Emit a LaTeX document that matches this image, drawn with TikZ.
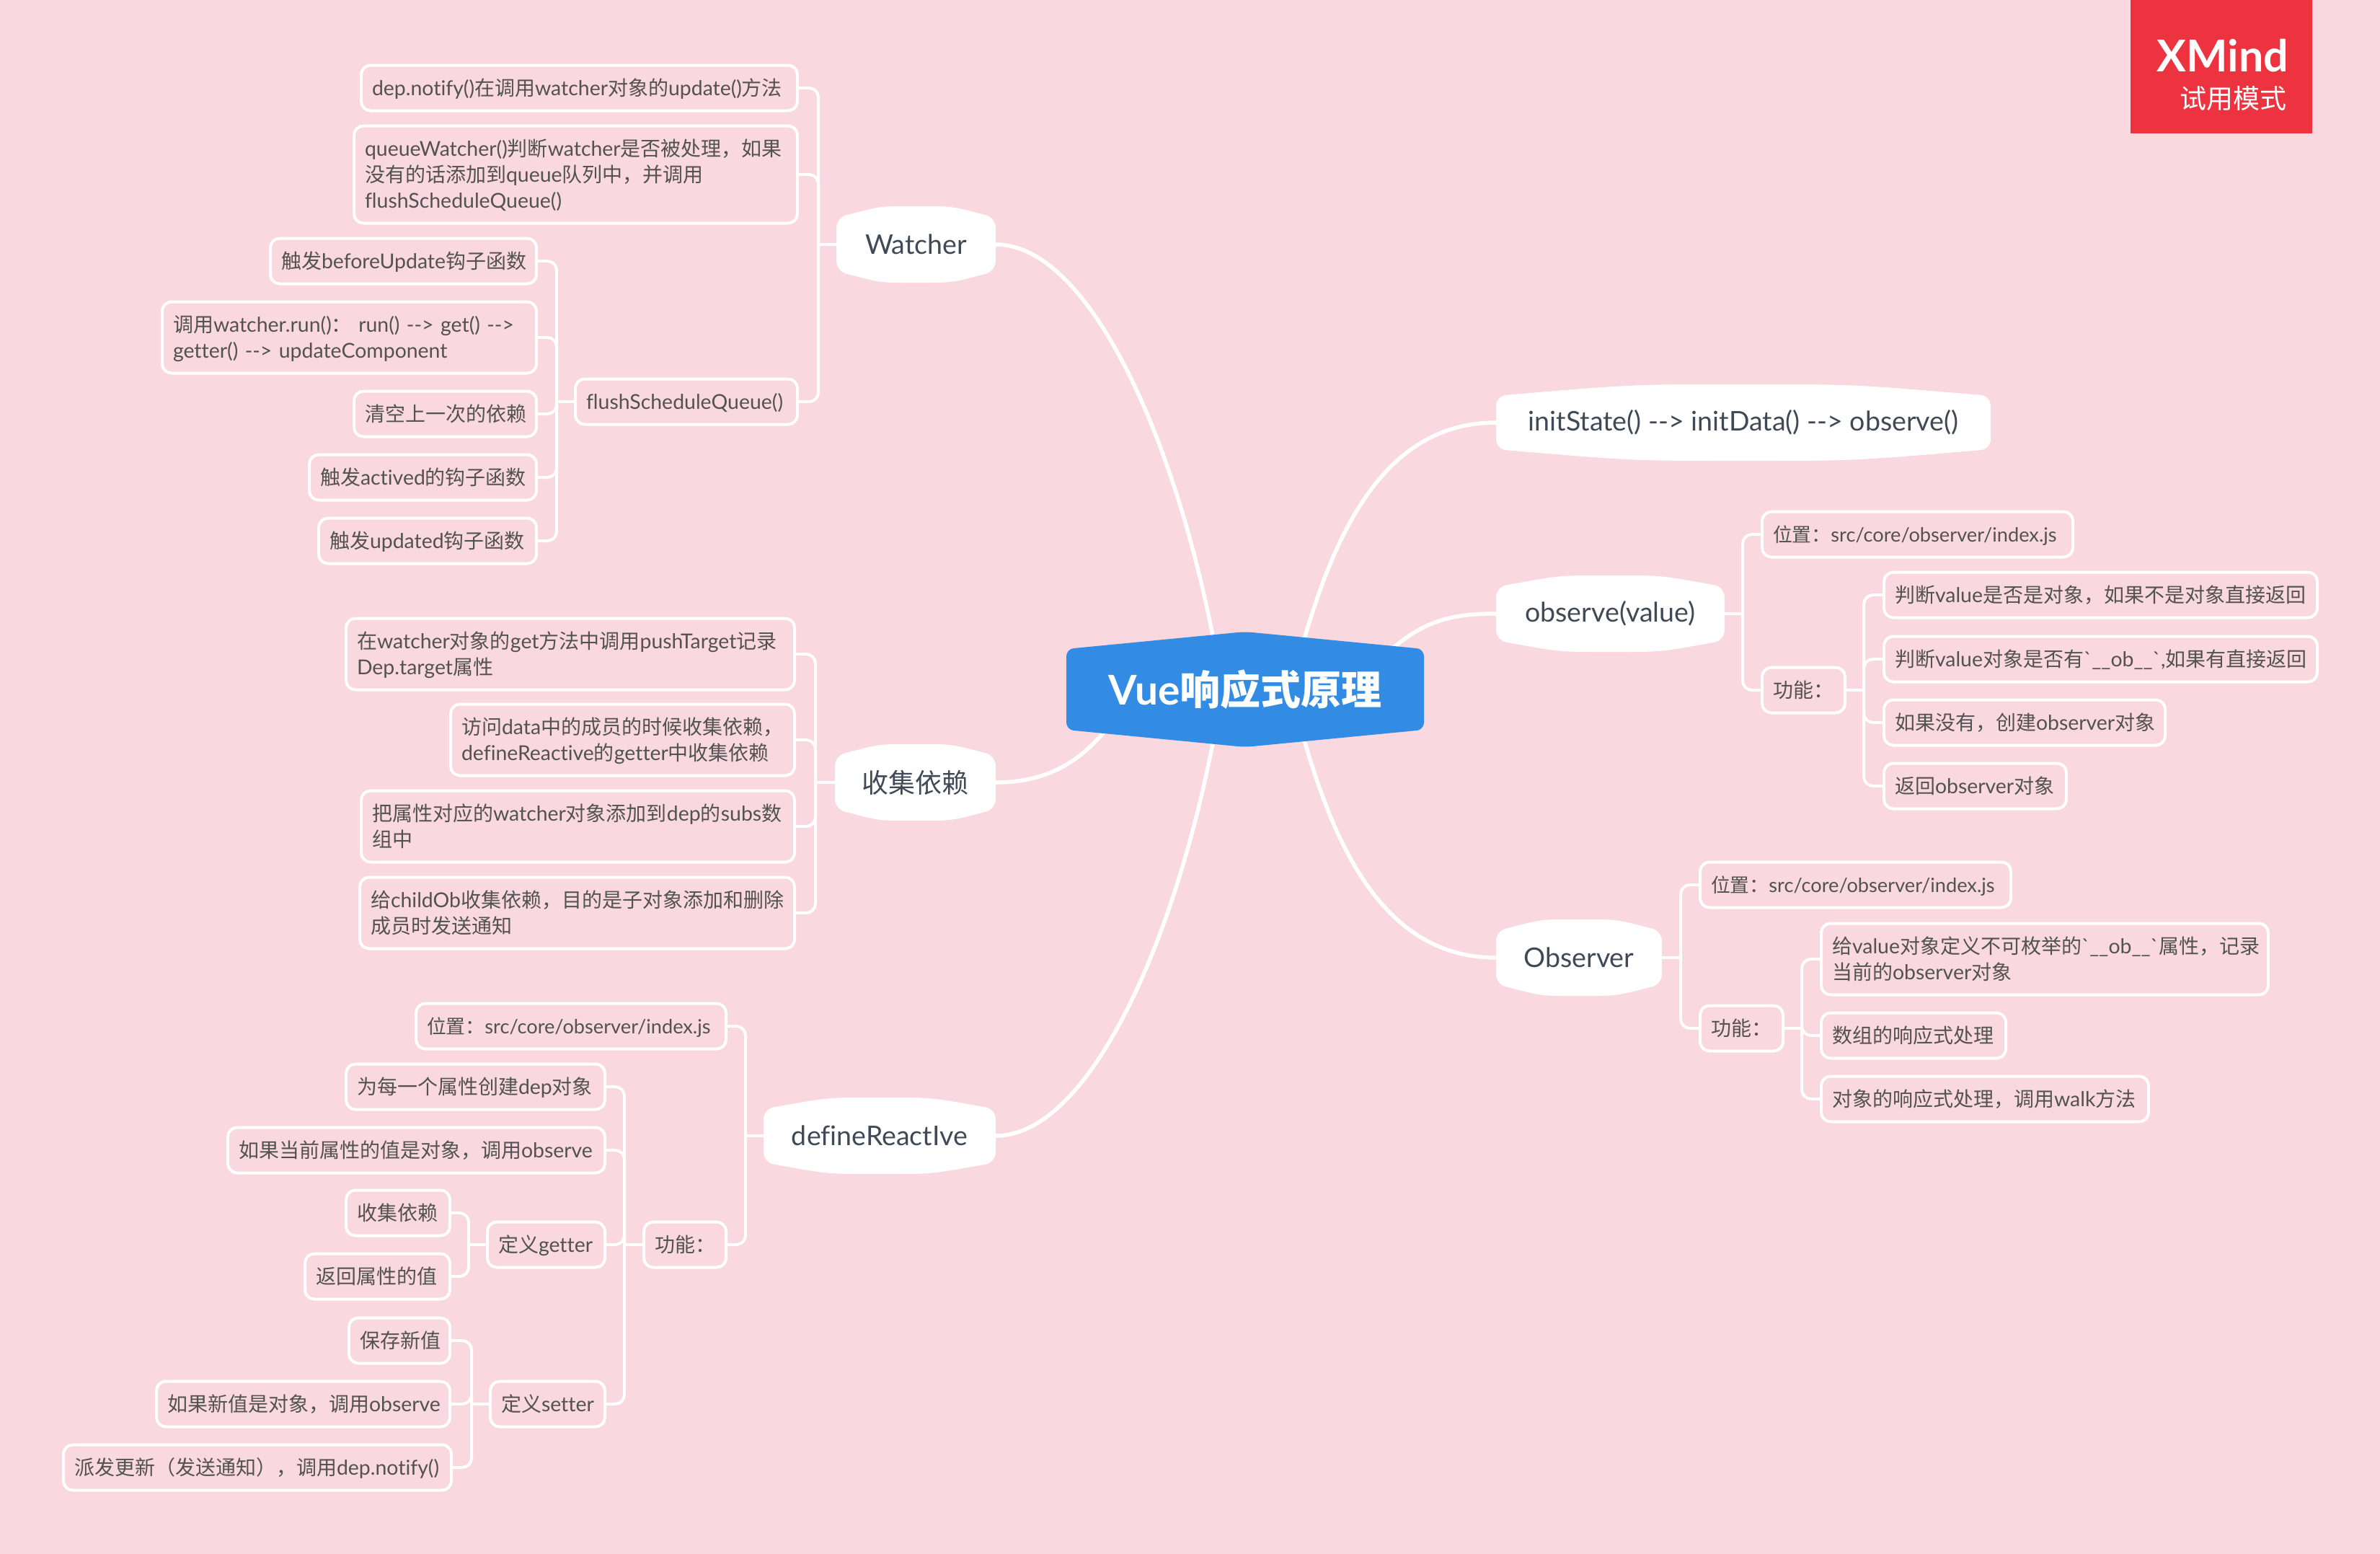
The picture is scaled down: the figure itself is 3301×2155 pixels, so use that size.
\documentclass[tikz,border=0pt]{standalone}
\usepackage{fontspec}
\usetikzlibrary{calc,backgrounds}
\newfontfamily\latfam{Lato}[Scale=1.015,Ligatures=NoCommon]
\newfontfamily\zhfam{Noto Sans CJK SC}
% switch to the CJK face on ideographs and full-width marks
\XeTeXinterchartokenstate=1
\chardef\zhclass=7
\newcount\zhcode
\zhcode="3000
\loop\XeTeXcharclass\zhcode=\zhclass\advance\zhcode 1 \ifnum\zhcode<"A000 \repeat
\zhcode="FF00
\loop\XeTeXcharclass\zhcode=\zhclass\advance\zhcode 1 \ifnum\zhcode<"FFF0 \repeat
\XeTeXinterchartoks 0 \zhclass={\zhfam}
\XeTeXinterchartoks 4095 \zhclass={\zhfam}
\XeTeXinterchartoks \zhclass 0={\latfam}
\XeTeXinterchartoks 4095 0={\latfam}
\definecolor{pagepink}{HTML}{F9D8DF}
\definecolor{leafink}{HTML}{525252}
\definecolor{topicink}{HTML}{3F4A56}
\definecolor{rootblue}{HTML}{338CE3}
\definecolor{badgered}{HTML}{EE3340}
\def\pb{path picture bounding box}
\def\leafstrut{\rule[-7.5pt]{0pt}{36pt}}
\tikzset{
  leaf/.style={draw=white, line width=4pt, rounded corners=13pt, anchor=west,
    outer sep=0pt, inner xsep=15pt, inner ysep=13.5pt, text width=#1pt, align=left,
    text=leafink, font=\fontsize{28}{36}\selectfont\latfam,
    execute at begin node=\leafstrut, execute at end node=\leafstrut},
  tight/.style={font=\fontsize{26.8}{36}\selectfont\latfam},
  topic/.style={anchor=west, outer sep=0pt, inner sep=0pt, minimum width=#1pt,
    minimum height=106pt, text=topicink, font=\fontsize{37}{40}\selectfont\latfam,
    path picture={\fill[white, rounded corners=14pt] (\pb.west)
      -- ([yshift=-16pt]\pb.north west) .. controls ($(\pb.north west)!.55!(\pb.north)$) .. (\pb.north)
      .. controls ($(\pb.north east)!.55!(\pb.north)$) .. ([yshift=-16pt]\pb.north east)
      -- ([yshift=16pt]\pb.south east) .. controls ($(\pb.south east)!.55!(\pb.south)$) .. (\pb.south)
      .. controls ($(\pb.south west)!.55!(\pb.south)$) .. ([yshift=16pt]\pb.south west) -- cycle;}},
  rootbox/.style={outer sep=0pt, inner sep=0pt, minimum width=496pt, minimum height=160pt,
    text=white, font=\fontsize{56}{60}\selectfont\latfam\bfseries,
    path picture={\fill[rootblue, rounded corners=10pt] (\pb.west)
      -- ([yshift=-24pt]\pb.north west) -- (\pb.north) -- ([yshift=-24pt]\pb.north east)
      -- ([yshift=24pt]\pb.south east) -- (\pb.south) -- ([yshift=24pt]\pb.south west) -- cycle;}},
  bigedge/.style={draw=white, line width=5.5pt},
  edge/.style={draw=white, line width=4pt, rounded corners=13pt}
}
\begin{document}
\begin{tikzpicture}[x=1pt,y=-1pt]
  \useasboundingbox (0,0) rectangle (3301,2155);

  \node[rootbox](root) at (1727,956){Vue响应式原理};

  \node[topic=221](watcher) at (1160,339){Watcher};
  \node[topic=223](collect) at (1158,1085){收集依赖};
  \node[topic=322](define) at (1059,1575){defineReactIve};
  \node[topic=686](init) at (2075,586){initState() --> initData() --> observe()};
  \node[topic=317](observe) at (2075,851){observe(value)};
  \node[topic=230](observer) at (2075,1328){Observer};

  \node[leaf=575](wa) at (501,122){dep.notify()在调用watcher对象的update()方法};
  \node[leaf=585](wb) at (491,242){queueWatcher()判断watcher是否被处理，如果\\没有的话添加到queue队列中，并调用\\flushScheduleQueue()};
  \node[leaf=278](fq) at (798,557){flushScheduleQueue()};
  \node[leaf=339](fa) at (375,362){触发beforeUpdate钩子函数};
  \node[leaf=489](fb) at (225,468){调用watcher.run()： run() --> get() -->\\getter() --> updateComponent};
  \node[leaf=223](fc) at (491,574){清空上一次的依赖};
  \node[leaf=285](fd) at (429,662){触发actived的钩子函数};
  \node[leaf=272](fe) at (442,750){触发updated钩子函数};

  \node[leaf=592](ca) at (480,907){在watcher对象的get方法中调用pushTarget记录\\Dep.target属性};
  \node[leaf=447](cb) at (625,1026){访问data中的成员的时候收集依赖，\\defineReactive的getter中收集依赖};
  \node[leaf=571](cc) at (501,1146){把属性对应的watcher对象添加到dep的subs数\\组中};
  \node[leaf=573](cd) at (499,1266){给childOb收集依赖，目的是子对象添加和删除\\成员时发送通知};

  \node[leaf=400, tight](da) at (577,1423){位置：src/core/observer/index.js};
  \node[leaf=84](db) at (893,1726){功能：};
  \node[leaf=329](dc) at (480,1507){为每一个属性创建dep对象};
  \node[leaf=493](dd) at (316,1595){如果当前属性的值是对象，调用observe};
  \node[leaf=133](getter) at (676,1726){定义getter};
  \node[leaf=129](setter) at (680,1947){定义setter};
  \node[leaf=114](ga) at (480,1682){收集依赖};
  \node[leaf=171](gb) at (423,1770){返回属性的值};
  \node[leaf=110](sa) at (484,1859){保存新值};
  \node[leaf=377](sb) at (217,1947){如果新值是对象，调用observe};
  \node[leaf=508](sc) at (88,2035){派发更新（发送通知），调用dep.notify()};

  \node[leaf=401, tight](oa) at (2444,741){位置：src/core/observer/index.js};
  \node[leaf=85](ob) at (2444,957){功能：};
  \node[leaf=571](pa) at (2613,825){判断value是否是对象，如果不是对象直接返回};
  \node[leaf=571](pb) at (2613,914){判断value对象是否有`\_\_ob\_\_`,如果有直接返回};
  \node[leaf=360](pc) at (2613,1002){如果没有，创建observer对象};
  \node[leaf=223](pd) at (2613,1090){返回observer对象};

  \node[leaf=401, tight](ra) at (2358,1227){位置：src/core/observer/index.js};
  \node[leaf=85](rb) at (2358,1426){功能：};
  \node[leaf=590](qa) at (2526,1330){给value对象定义不可枚举的`\_\_ob\_\_`属性，记录\\当前的observer对象};
  \node[leaf=226](qb) at (2526,1436){数组的响应式处理};
  \node[leaf=424](qc) at (2526,1524){对象的响应式处理，调用walk方法};

  \node[fill=badgered, minimum width=252pt, minimum height=185pt, inner sep=0pt](badge) at (3081,92.5){};
  \node[anchor=base east, text=white, inner sep=0pt, font=\fontsize{60}{60}\selectfont\latfam\bfseries](logo) at (3174,99){XMind};
  \node[anchor=base east, text=white, inner sep=0pt, font=\fontsize{37}{40}\selectfont\latfam](trial) at (3172,150){试用模式};

  \begin{scope}[on background layer]
    \fill[pagepink] (0,0) rectangle (3301,2155);

    \draw[bigedge] (watcher.east) .. controls (1520,339) and (1648,650) .. (root.center -| 1695,0);
    \draw[bigedge] (define.east) .. controls (1520,1575) and (1648,1264) .. (root.center -| 1695,0);
    \draw[bigedge] (collect.east) .. controls (1460,1085) and (1520,1050) .. (root.center -| 1570,0);
    \draw[bigedge] (init.west) .. controls (1900,586) and (1835,780) .. (root.center -| 1790,0);
    \draw[bigedge] (observe.west) .. controls (2000,851) and (1950,865) .. (root.center -| 1880,0);
    \draw[bigedge] (observer.west) .. controls (1900,1328) and (1835,1134) .. (root.center -| 1790,0);

    \draw[edge] (watcher.west) -- ++(-25,0);
    \draw[edge] ([xshift=-25pt]watcher.west) |- (wa.east);
    \draw[edge] ([xshift=-25pt]watcher.west) |- (wb.east);
    \draw[edge] ([xshift=-25pt]watcher.west) |- (fq.east);
    \draw[edge] (fq.west) -- ++(-26,0);
    \draw[edge] ([xshift=-26pt]fq.west) |- (fa.east);
    \draw[edge] ([xshift=-26pt]fq.west) |- (fb.east);
    \draw[edge] ([xshift=-26pt]fq.west) |- (fc.east);
    \draw[edge] ([xshift=-26pt]fq.west) |- (fd.east);
    \draw[edge] ([xshift=-26pt]fq.west) |- (fe.east);

    \draw[edge] (collect.west) -- ++(-27,0);
    \draw[edge] ([xshift=-27pt]collect.west) |- (ca.east);
    \draw[edge] ([xshift=-27pt]collect.west) |- (cb.east);
    \draw[edge] ([xshift=-27pt]collect.west) |- (cc.east);
    \draw[edge] ([xshift=-27pt]collect.west) |- (cd.east);

    \draw[edge] (define.west) -- ++(-25,0);
    \draw[edge] ([xshift=-25pt]define.west) |- (da.east);
    \draw[edge] ([xshift=-25pt]define.west) |- (db.east);
    \draw[edge] (db.west) -- ++(-27,0);
    \draw[edge] ([xshift=-27pt]db.west) |- (dc.east);
    \draw[edge] ([xshift=-27pt]db.west) |- (dd.east);
    \draw[edge] ([xshift=-27pt]db.west) |- (getter.east);
    \draw[edge] ([xshift=-27pt]db.west) |- (setter.east);
    \draw[edge] (getter.west) -- ++(-26,0);
    \draw[edge] ([xshift=-26pt]getter.west) |- (ga.east);
    \draw[edge] ([xshift=-26pt]getter.west) |- (gb.east);
    \draw[edge] (setter.west) -- ++(-26,0);
    \draw[edge] ([xshift=-26pt]setter.west) |- (sa.east);
    \draw[edge] ([xshift=-26pt]setter.west) |- (sb.east);
    \draw[edge] ([xshift=-26pt]setter.west) |- (sc.east);

    \draw[edge] (observe.east) -- ++(25,0);
    \draw[edge] ([xshift=25pt]observe.east) |- (oa.west);
    \draw[edge] ([xshift=25pt]observe.east) |- (ob.west);
    \draw[edge] (ob.east) -- ++(26,0);
    \draw[edge] ([xshift=26pt]ob.east) |- (pa.west);
    \draw[edge] ([xshift=26pt]ob.east) |- (pb.west);
    \draw[edge] ([xshift=26pt]ob.east) |- (pc.west);
    \draw[edge] ([xshift=26pt]ob.east) |- (pd.west);

    \draw[edge] (observer.east) -- ++(26,0);
    \draw[edge] ([xshift=26pt]observer.east) |- (ra.west);
    \draw[edge] ([xshift=26pt]observer.east) |- (rb.west);
    \draw[edge] (rb.east) -- ++(26,0);
    \draw[edge] ([xshift=26pt]rb.east) |- (qa.west);
    \draw[edge] ([xshift=26pt]rb.east) |- (qb.west);
    \draw[edge] ([xshift=26pt]rb.east) |- (qc.west);
  \end{scope}
\end{tikzpicture}
\end{document}
